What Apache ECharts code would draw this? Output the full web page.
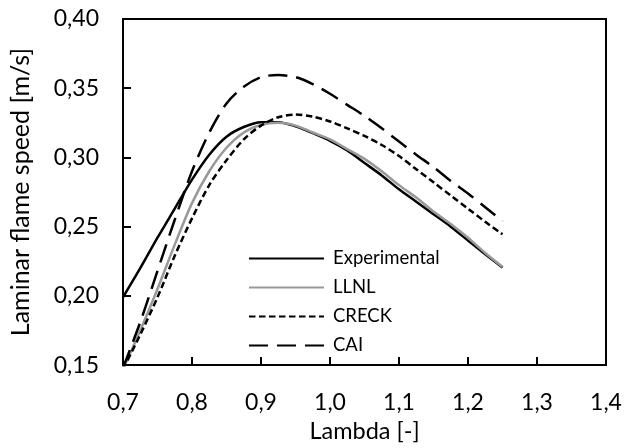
<!DOCTYPE html>
<html>
<head>
<meta charset="utf-8">
<script src="https://cdn.jsdelivr.net/npm/echarts@6/dist/echarts.min.js"></script>
<style>html,body{margin:0;padding:0;background:#fff}#c{width:626px;height:448px}</style>
</head>
<body>
<div id="c"></div>
<script>
var lambda = [0.700, 0.725, 0.750, 0.775, 0.800, 0.825, 0.850, 0.875, 0.900, 0.925, 0.950, 0.975, 1.000, 1.025, 1.050, 1.075, 1.100, 1.125, 1.150, 1.175, 1.200, 1.225, 1.250];
var experimental = [0.199, 0.220, 0.242, 0.263, 0.284, 0.302, 0.315, 0.322, 0.3255, 0.3255, 0.3225, 0.3175, 0.312, 0.305, 0.296, 0.287, 0.277, 0.268, 0.259, 0.250, 0.240, 0.230, 0.2205];
var llnl = [0.147, 0.175, 0.205, 0.237, 0.267, 0.290, 0.307, 0.318, 0.3235, 0.325, 0.323, 0.318, 0.313, 0.306, 0.299, 0.290, 0.280, 0.271, 0.261, 0.252, 0.242, 0.231, 0.221];
var creck = [0.147, 0.172, 0.199, 0.229, 0.256, 0.280, 0.298, 0.313, 0.323, 0.329, 0.331, 0.3295, 0.326, 0.321, 0.3155, 0.309, 0.301, 0.2915, 0.282, 0.2725, 0.263, 0.2535, 0.2445];
var cai = [0.148, 0.181, 0.218, 0.255, 0.290, 0.318, 0.339, 0.351, 0.358, 0.3595, 0.358, 0.353, 0.346, 0.338, 0.330, 0.321, 0.3115, 0.302, 0.293, 0.283, 0.274, 0.264, 0.254];
var seriesNames = ['Experimental', 'LLNL', 'CRECK', 'CAI'];

function pairs(ys) { return lambda.map(function (x, i) { return [x, ys[i]]; }); }
var FONT = 'Lato';
var chart = echarts.init(document.getElementById('c'));
var styles = [
  {color: '#000', width: 2.5, type: 'solid'},
  {color: '#999999', width: 2.5, type: 'solid'},
  {color: '#000', width: 2.5, type: [6.5, 3.5]},
  {color: '#000', width: 2.5, type: [19, 9]}
];
var datasets = [experimental, llnl, creck, cai];
chart.setOption({
  animation: false,
  backgroundColor: '#fff',
  grid: {left: 123, right: 20, top: 19, bottom: 79, show: true, borderColor: '#000', borderWidth: 2, containLabel: false},
  legend: {
    orient: 'vertical', left: 243, top: 244, itemWidth: 75, itemHeight: 18, itemGap: 10,
    data: seriesNames,
    itemStyle: {opacity: 0},
    textStyle: {fontFamily: FONT, fontSize: 18.5, color: '#000', padding: [0, 0, 0, 4]}
  },
  xAxis: {
    type: 'value', min: 0.7, max: 1.4, interval: 0.1,
    name: 'Lambda [-]', nameLocation: 'middle', nameGap: 52,
    nameTextStyle: {fontFamily: FONT, fontSize: 23.5, color: '#000'},
    axisLine: {show: true, lineStyle: {color: '#000', width: 2}},
    axisTick: {show: true, inside: true, length: 8, lineStyle: {color: '#000', width: 2}},
    splitLine: {show: false},
    axisLabel: {fontFamily: FONT, fontSize: 23, color: '#000', margin: 26,
      formatter: function (v) { return v.toFixed(1).replace('.', ','); }}
  },
  yAxis: {
    type: 'value', min: 0.15, max: 0.40, interval: 0.05,
    name: 'Laminar flame speed [m/s]', nameLocation: 'middle', nameGap: 90,
    nameTextStyle: {fontFamily: FONT, fontSize: 25, color: '#000'},
    axisLine: {show: true, lineStyle: {color: '#000', width: 2}},
    axisTick: {show: true, inside: true, length: 8, lineStyle: {color: '#000', width: 2}},
    splitLine: {show: false},
    axisLabel: {fontFamily: FONT, fontSize: 23, color: '#000', margin: 24,
      formatter: function (v) { return v.toFixed(2).replace('.', ','); }}
  },
  series: seriesNames.map(function (n, i) {
    return {
      name: n, type: 'line', data: pairs(datasets[i]), smooth: 0.3, symbol: 'none',
      clip: true,
      itemStyle: {color: styles[i].color},
      lineStyle: {color: styles[i].color, width: styles[i].width, type: styles[i].type}
    };
  })
});
</script>
</body>
</html>
